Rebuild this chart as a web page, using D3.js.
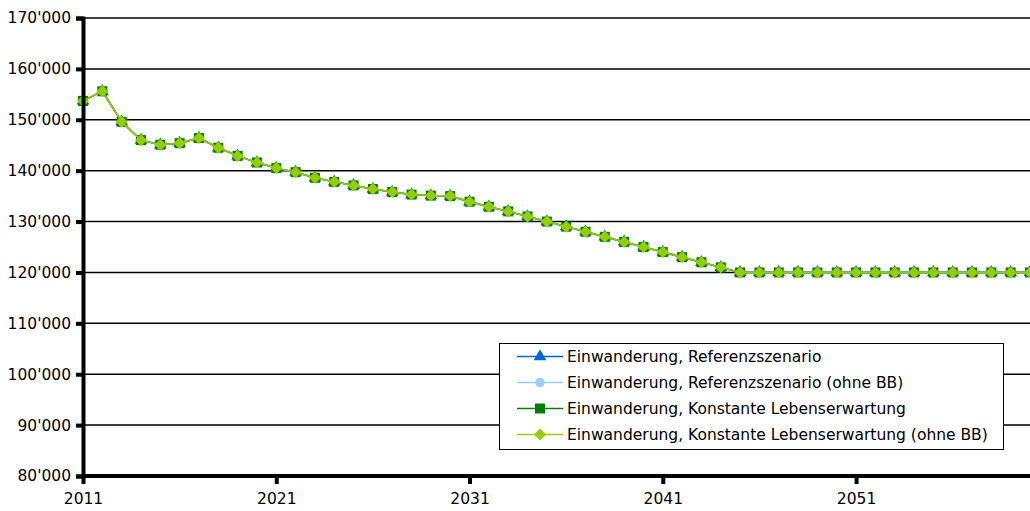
<!DOCTYPE html>
<html>
<head>
<meta charset="utf-8">
<script src="https://cdn.jsdelivr.net/npm/d3@7"></script>
<style>
  body { margin: 0; background: #fff; }
  text { font-family: "DejaVu Sans", Verdana, sans-serif; }
</style>
</head>
<body>
<script>
// years and values
const years = d3.range(2011, 2061);
const population = [
    153700, 155600, 149600, 146000, 145100, 145400, 146400, 144500, 142900, 141600,
    140500, 139700, 138600, 137800, 137100, 136400, 135800, 135300, 135100, 135000,
    133900, 132900, 132000, 131000, 130000, 129000, 128000, 127000, 126000, 125000,
    124000, 123000, 122000, 121000, 120000, 120000, 120000, 120000, 120000, 120000,
    120000, 120000, 120000, 120000, 120000, 120000, 120000, 120000, 120000, 120000
];
// the four scenarios coincide on the picture
const refScenario = population.slice();
const refScenarioNoBB = population.slice();
const constLife = population.slice();
const constLifeNoBB = population.slice();

const yTicks = d3.range(80000, 170001, 10000);
const xTicks = [2011, 2021, 2031, 2041, 2051];

const series = [
    { name: "Einwanderung, Referenzszenario", values: refScenario, color: "#0066cc", symbol: d3.symbolTriangle, size: 70, rot: 0 },
    { name: "Einwanderung, Referenzszenario (ohne BB)", values: refScenarioNoBB, color: "#99ccff", symbol: d3.symbolCircle, size: 70, rot: 0 },
    { name: "Einwanderung, Konstante Lebenserwartung", values: constLife, color: "#008000", symbol: d3.symbolSquare, size: 100, rot: 0 },
    { name: "Einwanderung, Konstante Lebenserwartung (ohne BB)", values: constLifeNoBB, color: "#99cc00", symbol: d3.symbolSquare, size: 72, rot: 45 }
];

const width = 1030, height = 511;
const margin = { left: 83, top: 18, right: 0, bottom: 35 };
const fontSize = 15.5;

const svg = d3.select("body").append("svg")
    .attr("width", width)
    .attr("height", height);

const x = d3.scaleLinear()
    .domain([2011, 2060])
    .range([margin.left, width - margin.right]);
const y = d3.scaleLinear()
    .domain([80000, 170000])
    .range([height - margin.bottom, margin.top]);

const fmt = d => d3.format(",")(d).replace(/,/g, "'");

// gridlines
svg.append("g")
    .selectAll("line")
    .data(yTicks.filter(d => d > 80000))
    .join("line")
    .attr("x1", margin.left)
    .attr("x2", width)
    .attr("y1", d => y(d))
    .attr("y2", d => y(d))
    .attr("stroke", "#000")
    .attr("stroke-width", 1.5);

// series
const plot = svg.append("g");
series.forEach(s => {
    const pts = years.map((yr, i) => [yr, s.values[i]]);
    plot.append("path")
        .datum(pts)
        .attr("fill", "none")
        .attr("stroke", s.color)
        .attr("stroke-width", 1.5)
        .attr("d", d3.line().x(d => x(d[0])).y(d => y(d[1])));
    plot.append("g")
        .selectAll("path")
        .data(pts)
        .join("path")
        .attr("transform", d => `translate(${x(d[0])},${y(d[1])}) rotate(${s.rot})`)
        .attr("d", d3.symbol().type(s.symbol).size(s.size))
        .attr("fill", s.color);
});

// y axis
const yAxis = svg.append("g")
    .attr("transform", `translate(${margin.left},0)`)
    .call(d3.axisLeft(y).tickValues(yTicks).tickFormat(fmt).tickSize(7).tickPadding(5));
yAxis.select(".domain").attr("stroke-width", 4);
yAxis.selectAll(".tick line").attr("stroke-width", 4);
yAxis.selectAll("text").attr("font-size", fontSize).attr("fill", "#000");

// x axis
const xAxis = svg.append("g")
    .attr("transform", `translate(0,${height - margin.bottom})`)
    .call(d3.axisBottom(x).tickValues(xTicks).tickFormat(d3.format("d")).tickSize(8).tickPadding(9));
xAxis.select(".domain").attr("stroke-width", 4).attr("d", `M${margin.left},0H${width}`);
xAxis.selectAll(".tick line").attr("stroke-width", 4);
xAxis.selectAll("text").attr("font-size", fontSize).attr("fill", "#000");

// legend
const legend = svg.append("g").attr("transform", "translate(499,343)");
legend.append("rect")
    .attr("x", 0.5).attr("y", 0.5)
    .attr("width", 504).attr("height", 106)
    .attr("fill", "#fff")
    .attr("stroke", "#000")
    .attr("stroke-width", 1);
const rows = legend.selectAll(".row")
    .data(series)
    .join("g")
    .attr("class", "row")
    .attr("transform", (d, i) => `translate(0,${13.5 + i * 26})`);
rows.append("line")
    .attr("x1", 18).attr("x2", 64)
    .attr("stroke", d => d.color)
    .attr("stroke-width", 1.5);
rows.append("path")
    .attr("transform", d => `translate(41,0) rotate(${d.rot})`)
    .attr("d", d => d3.symbol().type(d.symbol).size(d.size)())
    .attr("fill", d => d.color);
rows.append("text")
    .attr("x", 68)
    .attr("dy", "0.35em")
    .attr("font-size", fontSize)
    .text(d => d.name);
</script>
</body>
</html>
